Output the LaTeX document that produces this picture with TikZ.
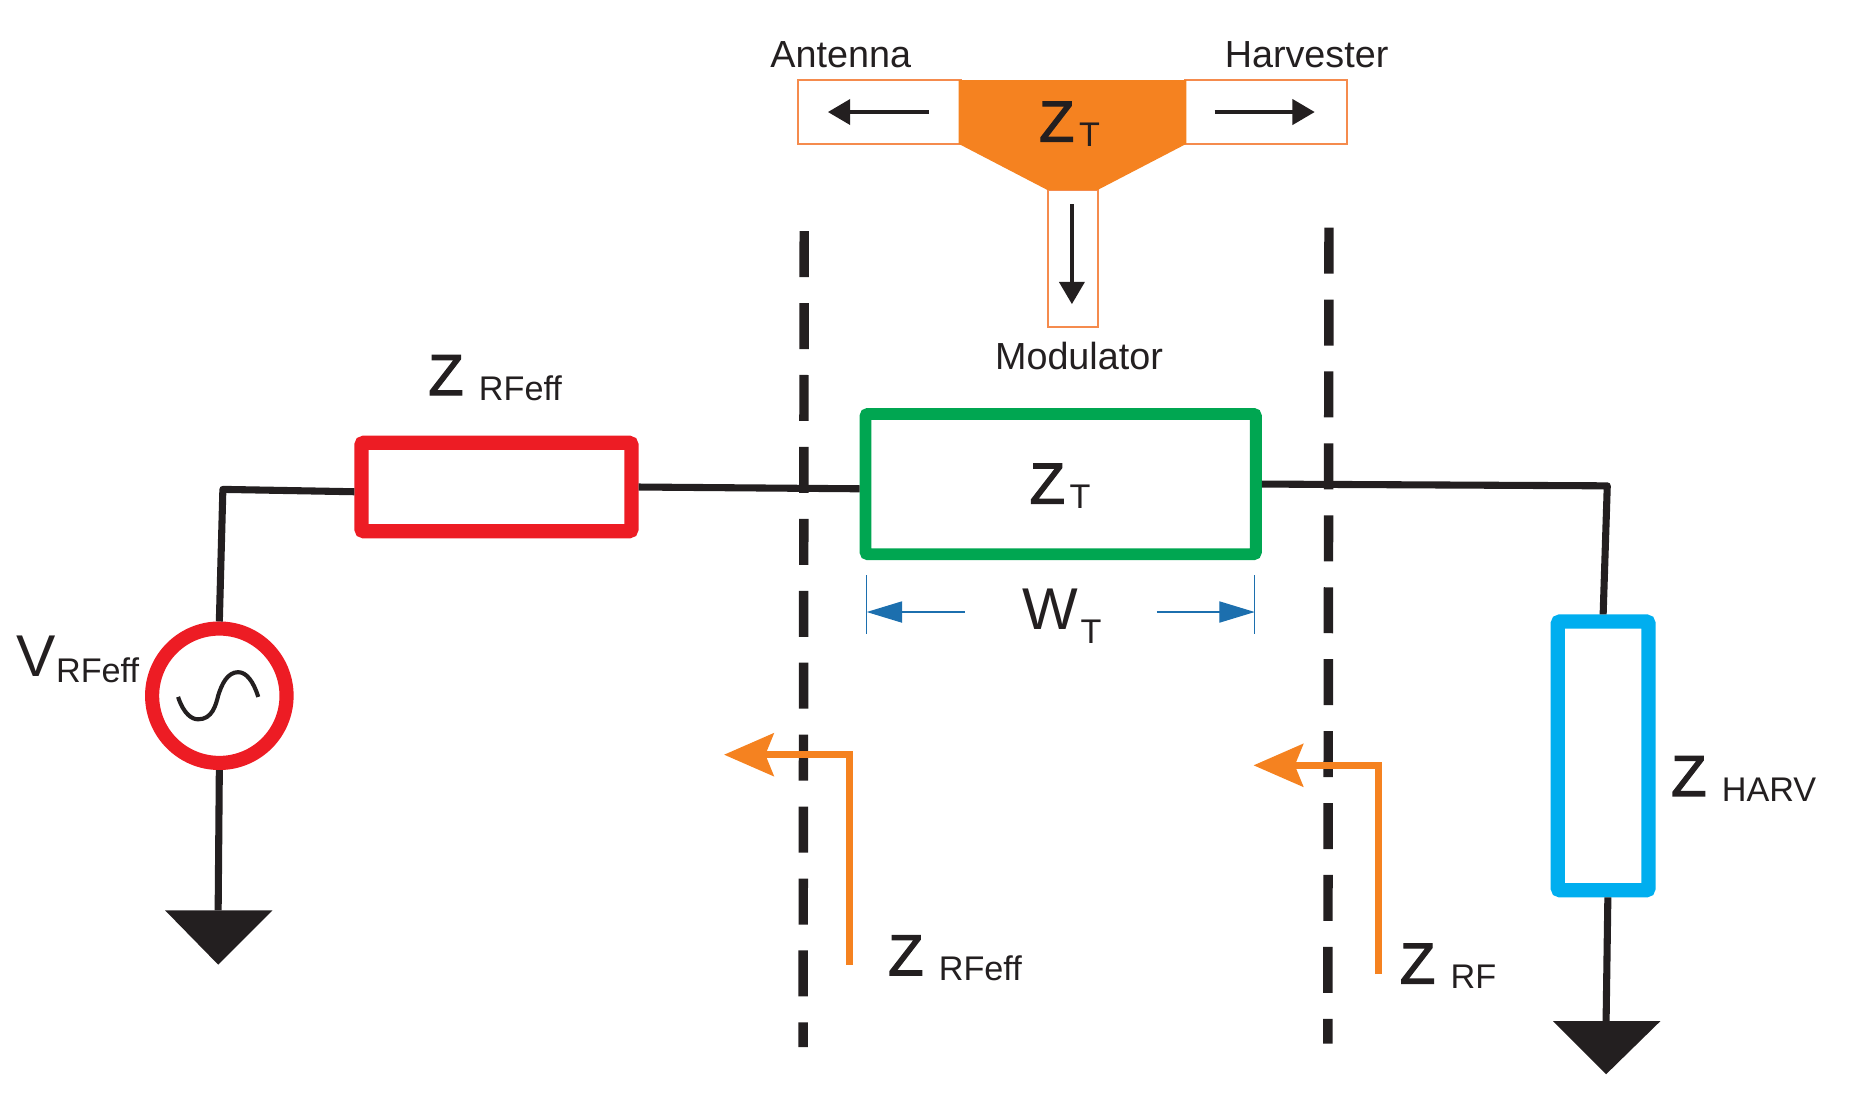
\documentclass[tikz,border=0pt]{standalone}
\usepackage{fontspec}
\setmainfont{Liberation Sans}
\newfontfamily\zfont[FakeBold=2]{Liberation Sans}
\usetikzlibrary{arrows.meta,backgrounds}
\definecolor{ink}{HTML}{231F20}
\definecolor{rred}{HTML}{ED1C24}
\definecolor{ggreen}{HTML}{00A651}
\definecolor{bblue}{HTML}{00AEEF}
\definecolor{oorange}{HTML}{F58220}
\definecolor{oline}{HTML}{F58B4D}
\definecolor{dimblue}{HTML}{1C6FAE}
\newcommand{\bigsub}[3]{{\zfont\fontsize{49}{49}\selectfont #1}\hspace{#3}\raisebox{-4.5pt}{\fontsize{29}{29}\selectfont #2}}
\tikzset{
  x=1pt,y=-1pt,
  comp/.style={draw,fill=white,rectangle,rounded corners=2pt,inner sep=0pt},
  stub/.style={draw=oline,line width=1.5pt,rectangle,inner sep=0pt},
  wire/.style={draw=ink,line width=6pt,line join=round},
  dashline/.style={draw=ink,line width=8pt,dash pattern=on 39pt off 22pt},
  look/.style={draw=oorange,line width=6pt,-{Stealth[length=42pt,width=36pt,inset=7pt]}},
  tarrow/.style={draw=ink,line width=4pt,-{Triangle[length=19pt,width=21pt]}},
  dim/.style={draw=dimblue,line width=1pt},
  dimarrow/.style={draw=dimblue,line width=1pt,-{Triangle[length=30pt,width=18pt]}},
  lab/.style={text=ink,inner sep=0pt,anchor=base west},
  toplab/.style={text=ink,inner sep=0pt,anchor=base,font=\fontsize{32}{32}\selectfont},
  gnd/.style={fill=ink,draw=none}
}
\begin{document}
\begin{tikzpicture}
\useasboundingbox (0,0) rectangle (1568,937.1);
% T-junction inset
\node[stub,minimum width=138pt,minimum height=54pt] (pa) at (746,95) {};
\node[stub,minimum width=138pt,minimum height=54pt] (ph) at (1073.5,95) {};
\node[stub,minimum width=42pt,minimum height=116pt] (pm) at (910,219) {};
\fill[oorange] (813,68) -- (1006,68) -- (1006,122) -- (931,161) -- (888,161) -- (813,122) -- cycle;
\node[lab] (zti) at (881,120) {\bigsub{Z}{T}{4pt}};
\coordinate (aS) at (788,95);  \coordinate (aE) at (702,95);
\coordinate (hS) at (1030,95); \coordinate (hE) at (1115,95);
\coordinate (mS) at (909,173); \coordinate (mE) at (909,258);
\draw[tarrow] (aS) -- (aE);
\draw[tarrow] (hS) -- (hE);
\draw[tarrow] (mS) -- (mE);
\node[toplab] (antenna) at (713,57) {Antenna};
\node[toplab] (harvester) at (1108,57) {Harvester};
\node[toplab] (modulator) at (915,313) {Modulator};
% components
\node[comp,draw=rred,line width=12pt,minimum width=229pt,minimum height=75pt] (zrf) at (421,413) {};
\node[comp,draw=ggreen,line width=10pt,minimum width=331pt,minimum height=119pt] (zt) at (899.5,410.5) {};
\node[comp,draw=bblue,line width=12pt,minimum width=77pt,minimum height=228pt] (zh) at (1359.5,641) {};
\node[circle,draw=rred,fill=white,line width=12pt,minimum size=114pt,inner sep=0pt] (src) at (186,590) {};
\draw[draw=ink,line width=3.5pt] (151,591) .. controls (156,606) and (163,610) .. (168,610) .. controls (180,610) and (183,598) .. (185,590) .. controls (188,580) and (193,570) .. (202,570) .. controls (209,570) and (215,578) .. (219,591);
% wires
\coordinate (c1) at (189,415);
\coordinate (c2) at (1363,412);
\coordinate (gl) at (185,772);
\coordinate (gr) at (1362,866);
\draw[wire] (src.north) -- (c1) -- ([yshift=-4pt]zrf.west);
\draw[wire] (zrf.east) -- ([yshift=-4pt]zt.west);
\draw[wire] ([yshift=0pt]zt.east) -- (c2) -- (zh.north);
\draw[wire] (src.south) -- (gl);
\draw[wire] ([xshift=4pt]zh.south) -- (gr);
\fill[gnd] (gl) +(-45,0) -- +(46,0) -- +(0,46) -- cycle;
\fill[gnd] (gr) +(-45,0) -- +(46,0) -- +(0,45) -- cycle;
% dashed planes
\coordinate (p1a) at (682,196); \coordinate (p1b) at (681,888);
\coordinate (p2a) at (1127,193); \coordinate (p2b) at (1126,885);
\draw[dashline] (p1a) -- (p1b);
\draw[dashline] (p2a) -- (p2b);
% width dimension
\coordinate (d1a) at (735,488); \coordinate (d1b) at (735,538);
\coordinate (d2a) at (1064,488); \coordinate (d2b) at (1064,538);
\coordinate (d1s) at (818,519); \coordinate (d1e) at (735,519);
\coordinate (d2s) at (981,519); \coordinate (d2e) at (1064,519);
\draw[dim] (d1a) -- (d1b);
\draw[dim] (d2a) -- (d2b);
\draw[dimarrow] (d1s) -- (d1e);
\draw[dimarrow] (d2s) -- (d2e);
% look-in arrows
\coordinate (l1a) at (720,818); \coordinate (l1b) at (720,640); \coordinate (l1c) at (614,640);
\coordinate (l2a) at (1169,826); \coordinate (l2b) at (1169,649); \coordinate (l2c) at (1063,649);
\draw[look] (l1a) -- (l1b) -- (l1c);
\draw[look] (l2a) -- (l2b) -- (l2c);
% labels
\node[lab] (lzrf) at (363,335) {\bigsub{Z}{RFeff}{13pt}};
\node[lab] (lzt) at (873,427) {\bigsub{Z}{T}{4pt}};
\node[lab] (lwt) at (867,534) {{\fontsize{50}{50}\selectfont W}\hspace{2pt}\raisebox{-12pt}{\fontsize{29}{29}\selectfont T}};
\node[lab] (lv) at (14,574) {{\fontsize{50}{50}\selectfont V}\raisebox{-5pt}{\fontsize{29}{29}\selectfont RFeff}};
\node[lab] (lzr2) at (753,827) {\bigsub{Z}{RFeff}{13pt}};
\node[lab] (lzr3) at (1187,834) {\bigsub{Z}{RF}{13pt}};
\node[lab] (lzh) at (1417,675) {\bigsub{Z}{HARV}{13pt}};
\end{tikzpicture}
\end{document}
